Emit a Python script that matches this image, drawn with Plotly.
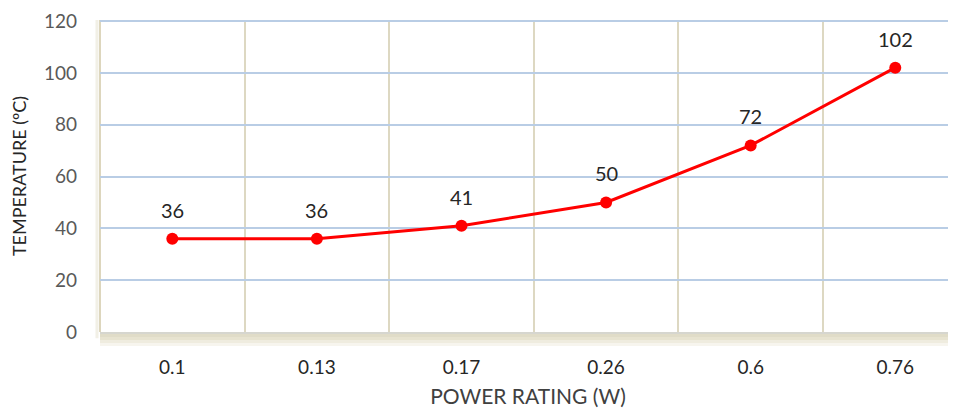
import plotly.graph_objects as go

power_labels = ["0.1", "0.13", "0.17", "0.26", "0.6", "0.76"]
temperature = [36, 36, 41, 50, 72, 102]
y_ticks = [0, 20, 40, 60, 80, 100, 120]

FONT = "Lato"
# the page body adds an 8px offset, so the figure is sized to fill the rest of the window
W, H = 948, 404
L, R, T, B = 92, 0, 12, 80
plot_h = H - T - B

fig = go.Figure()
fig.add_trace(go.Scatter(
    x=power_labels, y=temperature, mode="lines+markers",
    line=dict(color="#ff0000", width=3),
    marker=dict(color="#ff0000", size=12),
    cliponaxis=False, hoverinfo="skip", showlegend=False,
))

annotations = [
    dict(x=i, y=yv, xref="x", yref="y", text=str(yv), showarrow=False, yshift=29,
         font=dict(family=FONT, size=20, color="#262626"))
    for i, yv in enumerate(temperature)
]

# floor (3D-like base) drawn as graded bands beneath the plot area
floor_bands = [(0, 2, "#d6d6cf"), (2, 5, "#e0dcc8"), (5, 8, "#e7e3d0"),
               (8, 11, "#efecdf"), (11, 14, "#f7f5ee")]
shapes = []
for a, b, c in floor_bands:
    shapes.append(dict(type="rect", xref="paper", yref="paper",
                       x0=0, x1=1, y0=-b / plot_h, y1=-a / plot_h,
                       fillcolor=c, line=dict(width=0), layer="below"))
# left wall edge
shapes.append(dict(type="line", xref="paper", yref="paper",
                   x0=0, x1=0, y0=0, y1=1,
                   line=dict(color="#ddd6bd", width=2), layer="below"))
shapes.append(dict(type="line", xref="paper", yref="paper",
                   x0=-3 / (W - L), x1=-3 / (W - L), y0=-0.02, y1=1,
                   line=dict(color="#f2f0e6", width=3), layer="below"))

fig.update_layout(
    width=W, height=H,
    margin=dict(l=L, r=R, t=T, b=B, autoexpand=False),
    paper_bgcolor="white", plot_bgcolor="white",
    font=dict(family=FONT, size=19, color="#595959"),
    annotations=annotations,
    shapes=shapes,
    xaxis=dict(
        type="category", categoryorder="array", categoryarray=power_labels,
        range=[-0.5, 5.42], tickson="boundaries", ticks="",
        showgrid=True, gridcolor="#ddd8c2", gridwidth=2,
        zeroline=False, showline=False, automargin=False,
        tickfont=dict(family=FONT, size=19, color="#262626"),
        ticklabelstandoff=22,
        title=dict(text="POWER RATING (W)", standoff=12,
                   font=dict(family=FONT, size=21, color="#404040")),
    ),
    yaxis=dict(
        range=[0, 120.4], tickvals=y_ticks, ticks="",
        showgrid=True, gridcolor="#b9cde5", gridwidth=2,
        zeroline=False, showline=False, automargin=False,
        ticklabeloverflow="allow",
        tickfont=dict(family=FONT, size=19, color="#595959"),
        ticklabelstandoff=22,
        title=dict(text="TEMPERATURE (ºC)", standoff=12,
                   font=dict(family=FONT, size=18, color="#262626")),
    ),
)

fig.write_html("out.html")
